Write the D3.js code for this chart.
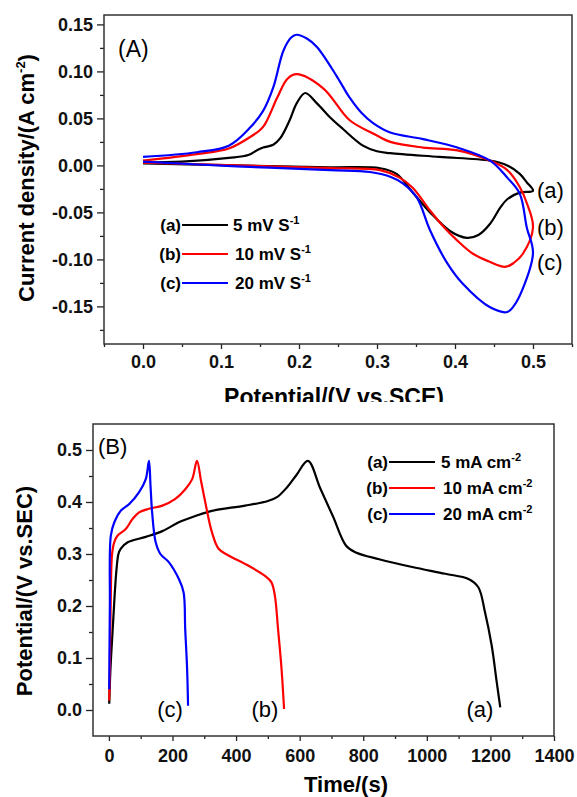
<!DOCTYPE html>
<html>
<head>
<meta charset="utf-8">
<script src="https://cdn.jsdelivr.net/npm/d3@7/dist/d3.min.js"></script>
<style>
  body { margin: 0; background: #fff; }
  svg text { font-family: "Liberation Sans", Arial, sans-serif; }
</style>
</head>
<body>
<div id="root"></div>
<script>
// ---- data ----
// (A) cyclic voltammograms: [potential V, current density A cm-2], in scan order
var cv5 = [[0.0, 0.003], [0.05, 0.004], [0.11, 0.008], [0.135, 0.011], [0.146, 0.016], [0.154, 0.019],
  [0.167, 0.022], [0.176, 0.029], [0.188, 0.048], [0.197, 0.066], [0.208, 0.077], [0.223, 0.066],
  [0.24, 0.051], [0.256, 0.039], [0.282, 0.021], [0.30, 0.015], [0.317, 0.013], [0.38, 0.009],
  [0.445, 0.005], [0.467, 0.0], [0.483, -0.009], [0.492, -0.018], [0.50, -0.027], [0.483, -0.029],
  [0.467, -0.036], [0.458, -0.045], [0.445, -0.062], [0.43, -0.074], [0.415, -0.077], [0.394, -0.070],
  [0.368, -0.050], [0.346, -0.029], [0.325, -0.009], [0.304, -0.003], [0.24, -0.002], [0.12, 0.0], [0.0, 0.002]];
var cv10 = [[0.0, 0.005], [0.069, 0.012], [0.11, 0.018], [0.137, 0.030], [0.154, 0.041], [0.172, 0.072],
  [0.185, 0.092], [0.197, 0.097], [0.231, 0.082], [0.265, 0.048], [0.295, 0.034], [0.317, 0.025],
  [0.359, 0.019], [0.403, 0.016], [0.445, 0.005], [0.467, -0.005], [0.483, -0.023], [0.492, -0.040],
  [0.50, -0.066], [0.487, -0.094], [0.475, -0.104], [0.464, -0.108], [0.443, -0.102], [0.423, -0.094],
  [0.403, -0.080], [0.385, -0.065], [0.368, -0.048], [0.346, -0.024], [0.329, -0.013], [0.304, -0.005],
  [0.24, -0.003], [0.12, 0.0], [0.0, 0.003]];
var cv20 = [[0.0, 0.009], [0.069, 0.014], [0.11, 0.021], [0.137, 0.040], [0.154, 0.058], [0.167, 0.083],
  [0.18, 0.122], [0.19, 0.136], [0.197, 0.139], [0.21, 0.135], [0.223, 0.126], [0.249, 0.094],
  [0.265, 0.072], [0.28, 0.056], [0.295, 0.045], [0.317, 0.035], [0.359, 0.028], [0.403, 0.019],
  [0.445, 0.005], [0.467, -0.013], [0.483, -0.030], [0.492, -0.066], [0.50, -0.093], [0.486, -0.133],
  [0.475, -0.150], [0.467, -0.156], [0.445, -0.151], [0.41, -0.126], [0.39, -0.104], [0.368, -0.069],
  [0.351, -0.034], [0.333, -0.019], [0.317, -0.012], [0.291, -0.007], [0.24, -0.005], [0.12, -0.001], [0.0, 0.004]];

// (B) charge/discharge: [time s, potential V]
var gcd5 = [[1, 0.012], [5, 0.08], [12, 0.156], [18, 0.22], [24, 0.271], [30, 0.30], [37, 0.31],
  [58, 0.322], [116, 0.333], [168, 0.344], [220, 0.361], [272, 0.373], [324, 0.383], [428, 0.393],
  [500, 0.402], [530, 0.41], [560, 0.428], [590, 0.452], [626, 0.479], [665, 0.426], [705, 0.372],
  [746, 0.316], [777, 0.303], [850, 0.29], [954, 0.275], [1058, 0.262], [1131, 0.252],
  [1162, 0.236], [1183, 0.188], [1204, 0.124], [1220, 0.053], [1231, 0.005]];
var gcd10 = [[1, 0.018], [3, 0.08], [6, 0.22], [10, 0.30], [17, 0.323], [27, 0.335], [53, 0.348],
  [74, 0.367], [95, 0.38], [126, 0.387], [168, 0.393], [209, 0.406], [241, 0.425], [262, 0.444],
  [277, 0.479], [290, 0.44], [303, 0.40], [324, 0.342], [345, 0.31], [376, 0.297], [428, 0.281],
  [491, 0.258], [511, 0.246], [522, 0.22], [532, 0.156], [543, 0.079], [551, 0.002]];
var gcd20 = [[1, 0.04], [3, 0.2], [6, 0.335], [17, 0.361], [37, 0.383], [64, 0.396], [95, 0.419],
  [116, 0.444], [126, 0.479], [131, 0.43], [136, 0.38], [147, 0.323], [162, 0.30], [189, 0.284],
  [220, 0.252], [235, 0.226], [240, 0.156], [246, 0.079], [249, 0.008]];

var seriesKeys = ["(a)", "(b)", "(c)"];
var cvRates = ["5 mV S", "10 mV S", "20 mV S"];
var gcdCurrents = ["5 mA cm", "10 mA cm", "20 mA cm"];
var colors = ["#000000", "#ff0000", "#0000ff"];

var cvXTicks = [0.0, 0.1, 0.2, 0.3, 0.4, 0.5];
var cvXMinor = [-0.05, 0.05, 0.15, 0.25, 0.35, 0.45, 0.55];
var cvYTicks = [-0.15, -0.10, -0.05, 0.00, 0.05, 0.10, 0.15];
var cvYMinor = [-0.175, -0.125, -0.075, -0.025, 0.025, 0.075, 0.125];
var gcdXTicks = [0, 200, 400, 600, 800, 1000, 1200, 1400];
var gcdXMinor = [100, 300, 500, 700, 900, 1100, 1300];
var gcdYTicks = [0.0, 0.1, 0.2, 0.3, 0.4, 0.5];
var gcdYMinor = [0.05, 0.15, 0.25, 0.35, 0.45];

var W = 577, H = 797;
var svg = d3.select("#root").append("svg")
  .attr("width", W).attr("height", H);

var hyphen = function (f) {
  return function (d) { return d3.format(f)(d).replace("\u2212", "-"); };
};

function panel(o) {
  var g = svg.append("g");
  var x = d3.scaleLinear().domain(o.xd).range(o.xr);
  var y = d3.scaleLinear().domain(o.yd).range(o.yr);

  var clipId = "clip" + o.id;
  svg.append("clipPath").attr("id", clipId).append("rect")
    .attr("x", o.xr[0]).attr("y", o.yr[1])
    .attr("width", o.xr[1] - o.xr[0]).attr("height", o.yr[0] - o.yr[1]);

  // axes: major with labels, minor without
  g.append("g").attr("transform", "translate(0," + o.yr[0] + ")")
    .call(d3.axisBottom(x).tickValues(o.xt).tickFormat(hyphen(o.xf)).tickSize(5).tickPadding(o.xpad));
  g.append("g").attr("transform", "translate(0," + o.yr[0] + ")")
    .call(d3.axisBottom(x).tickValues(o.xm).tickFormat("").tickSize(3));
  g.append("g").attr("transform", "translate(" + o.xr[0] + ",0)")
    .call(d3.axisLeft(y).tickValues(o.yt).tickFormat(hyphen(o.yf)).tickSize(7).tickPadding(o.ypad));
  g.append("g").attr("transform", "translate(" + o.xr[0] + ",0)")
    .call(d3.axisLeft(y).tickValues(o.ym).tickFormat("").tickSize(4));
  g.selectAll(".domain").remove();
  g.selectAll(".tick line").attr("stroke", "#222").attr("stroke-width", 1.3);
  g.selectAll(".tick text").attr("fill", "#111").attr("font-weight", "bold")
    .attr("font-size", o.tickSize).style("font-family", "'Liberation Sans', Arial, sans-serif");

  // frame
  g.append("rect").attr("x", o.xr[0]).attr("y", o.yr[1])
    .attr("width", o.xr[1] - o.xr[0]).attr("height", o.yr[0] - o.yr[1])
    .attr("fill", "none").attr("stroke", "#333").attr("stroke-width", 1.5);

  var line = d3.line()
    .x(function (d) { return x(d[0]); })
    .y(function (d) { return y(d[1]); })
    .curve(d3.curveCatmullRom.alpha(0.5));

  g.append("g").attr("clip-path", "url(#" + clipId + ")")
    .selectAll("path").data(o.series).enter().append("path")
    .attr("d", line)
    .attr("fill", "none")
    .attr("stroke", function (d, i) { return colors[i]; })
    .attr("stroke-width", 2.2)
    .attr("stroke-linejoin", "round");

  return { g: g, x: x, y: y };
}

// ---------- (A) ----------
var A = panel({
  id: "A", xd: [-0.05, 0.55], xr: [104, 572], yd: [-0.19, 0.16], yr: [344, 15],
  xt: cvXTicks, xm: cvXMinor, yt: cvYTicks, ym: cvYMinor, xf: ".1f", yf: ".2f",
  xpad: 6, ypad: 4, tickSize: 18, series: [cv5, cv10, cv20]
});

A.g.append("text").attr("x", 118).attr("y", 57).attr("font-size", 23).text("(A)");

// curve tags at the right
var tagA = [190, 227, 262];
seriesKeys.forEach(function (k, i) {
  A.g.append("text").attr("x", 537).attr("y", tagA[i] + 8).attr("font-size", 22).text(k);
});

// legend (A)
var legA = A.g.append("g");
seriesKeys.forEach(function (k, i) {
  var yy = 225 + i * 29;
  legA.append("text").attr("x", 181).attr("y", yy + 6).attr("text-anchor", "end")
    .attr("font-weight", "bold").attr("font-size", 17).text(k);
  legA.append("line").attr("x1", 182).attr("x2", 228).attr("y1", yy).attr("y2", yy)
    .attr("stroke", colors[i]).attr("stroke-width", 2);
  var t = legA.append("text").attr("x", i === 0 ? 233 : 235).attr("y", yy + 6)
    .attr("font-weight", "bold").attr("font-size", 17).text(cvRates[i]);
  t.append("tspan").attr("dy", -7).attr("font-size", 11).text("-1");
});

A.g.append("text")
  .attr("transform", "translate(34,178) rotate(-90)")
  .attr("text-anchor", "middle").attr("font-weight", "bold").attr("font-size", 22)
  .text("Current density/(A cm")
  .append("tspan").attr("dy", -9).attr("font-size", 13).text("-2")
  .select(function () { return this.parentNode; })
  .append("tspan").attr("dy", 9).attr("font-size", 22).text(")");

// x title, cut off at the bottom like the source
svg.append("clipPath").attr("id", "cutA").append("rect")
  .attr("x", 0).attr("y", 0).attr("width", W).attr("height", 402);
A.g.append("text").attr("clip-path", "url(#cutA)")
  .attr("x", 334).attr("y", 405).attr("text-anchor", "middle")
  .attr("font-weight", "bold").attr("font-size", 23).text("Potential/(V vs.SCE)");

// ---------- (B) ----------
var B = panel({
  id: "B", xd: [-50, 1400], xr: [93, 554], yd: [-0.05, 0.55], yr: [736, 424],
  xt: gcdXTicks, xm: gcdXMinor, yt: gcdYTicks, ym: gcdYMinor, xf: "d", yf: ".1f",
  xpad: 8, ypad: 4, tickSize: 18, series: [gcd5, gcd10, gcd20]
});

B.g.append("text").attr("x", 98).attr("y", 454).attr("font-size", 22).text("(B)");

var tagBx = [480, 265, 170];
seriesKeys.forEach(function (k, i) {
  B.g.append("text").attr("x", tagBx[i]).attr("y", 717).attr("text-anchor", "middle")
    .attr("font-size", 22).text(k);
});

var legB = B.g.append("g");
seriesKeys.forEach(function (k, i) {
  var yy = 462 + i * 26;
  legB.append("text").attr("x", 388).attr("y", yy + 6).attr("text-anchor", "end")
    .attr("font-weight", "bold").attr("font-size", 17).text(k);
  legB.append("line").attr("x1", 389).attr("x2", 435).attr("y1", yy).attr("y2", yy)
    .attr("stroke", colors[i]).attr("stroke-width", 2);
  var t = legB.append("text").attr("x", i === 0 ? 441 : 443).attr("y", yy + 6)
    .attr("font-weight", "bold").attr("font-size", 17).text(gcdCurrents[i]);
  t.append("tspan").attr("dy", -7).attr("font-size", 11).text("-2");
});

B.g.append("text")
  .attr("transform", "translate(32,591) rotate(-90)")
  .attr("text-anchor", "middle").attr("font-weight", "bold").attr("font-size", 22)
  .text("Potential/(V vs.SEC)");

B.g.append("text").attr("x", 346).attr("y", 792).attr("text-anchor", "middle")
  .attr("font-weight", "bold").attr("font-size", 22).text("Time/(s)");
</script>
</body>
</html>
